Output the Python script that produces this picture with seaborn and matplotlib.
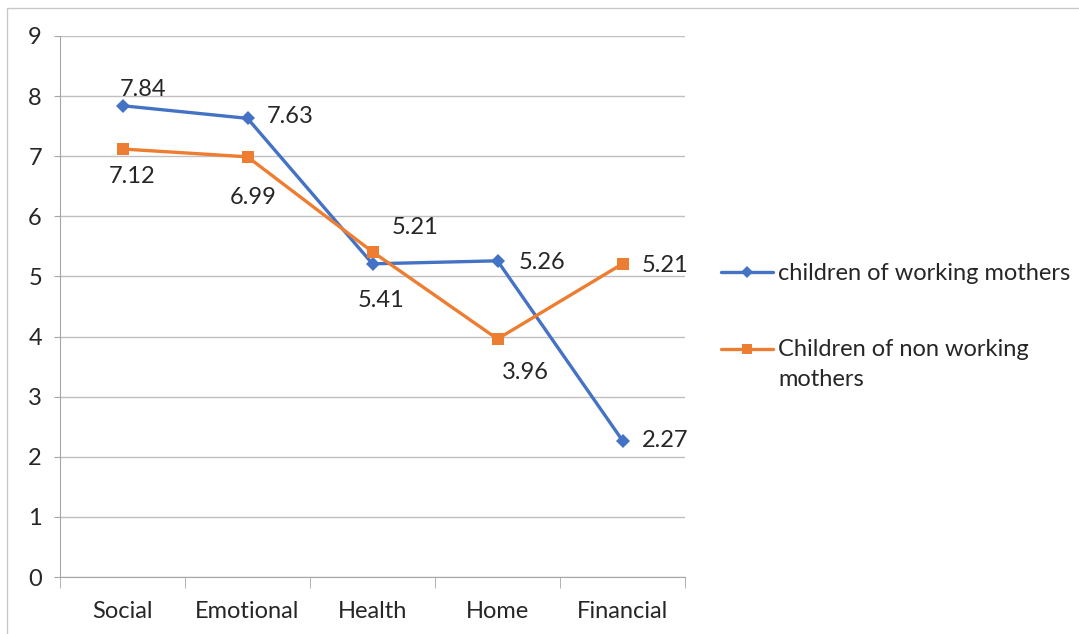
import pandas as pd
import matplotlib.pyplot as plt
import seaborn as sns
from matplotlib.patches import Rectangle
from matplotlib.lines import Line2D
from matplotlib.legend_handler import HandlerLine2D

# Chart data
categories = ['Social', 'Emotional', 'Health', 'Home', 'Financial']
working = [7.84, 7.63, 5.21, 5.26, 2.27]
non_working = [7.12, 6.99, 5.41, 3.96, 5.21]
working_name = 'children of working mothers'
non_working_name = 'Children of non working\nmothers'

# label text as shown in the original (Health labels appear swapped there)
working_labels = ['7.84', '7.63', '5.21', '5.26', '2.27']
non_working_labels = ['7.12', '6.99', '5.41', '3.96', '5.21']

df = pd.DataFrame({
    'category': categories * 2,
    'value': working + non_working,
    'group': [working_name] * 5 + [non_working_name] * 5,
})

sns.set_style('white')
plt.rcParams['font.family'] = ['Lato', 'DejaVu Sans']

blue = '#4472C4'
orange = '#ED7D31'
fs = 17

fig = plt.figure(figsize=(10.79, 6.34), dpi=100)
ax = fig.add_axes([60 / 1079, 57 / 634, 625 / 1079, 541 / 634])

sns.lineplot(data=df, x='category', y='value', hue='group', style='group',
             markers={working_name: 'D', non_working_name: 's'},
             dashes=False, palette={working_name: blue, non_working_name: orange},
             markersize=8, markeredgewidth=0, linewidth=2.4, sort=False,
             legend=False, ax=ax)
for ln in ax.lines:
    if ln.get_marker() == 'D':
        ln.set_markersize(7)

ax.set_xlim(-0.5, 4.5)
ax.set_ylim(0, 9)
ax.set_yticks(range(10))
ax.set_xlabel('')
ax.set_ylabel('')
ax.grid(axis='y', color='#bfbfbf', linewidth=1)
ax.set_axisbelow(True)
for s in ['top', 'right']:
    ax.spines[s].set_visible(False)
ax.spines['left'].set_color('#a6a6a6')
ax.spines['bottom'].set_color('#a6a6a6')

ax.set_xticks(range(5))
ax.set_xticks([i - 0.5 for i in range(6)], minor=True)
ax.tick_params(axis='x', which='major', length=0, pad=17, labelsize=fs, labelcolor='#262626')
ax.tick_params(axis='x', which='minor', length=8, color='#a6a6a6', direction='out')
ax.tick_params(axis='y', length=4, color='#a6a6a6', pad=9, labelsize=fs, labelcolor='#262626')
ax.tick_params(bottom=True, left=True, which='both')

# data labels, offsets in points
w_off = [(15, 12), (31, 1), (31, 26), (32, -1), (31, 0)]
n_off = [(7, -20), (4, -29), (6, -35), (20, -24), (31, -1)]
for i in range(5):
    ax.annotate(working_labels[i], (i, working[i]), xytext=w_off[i],
                textcoords='offset points', ha='center', va='center',
                fontsize=fs, color='#262626')
    ax.annotate(non_working_labels[i], (i, non_working[i]), xytext=n_off[i],
                textcoords='offset points', ha='center', va='center',
                fontsize=fs, color='#262626')


# keep the legend line beside the first line of a wrapped label
class FirstLineHandler(HandlerLine2D):
    def __init__(self, shift, **kw):
        super().__init__(**kw)
        self.shift = shift

    def create_artists(self, legend, orig_handle, xdescent, ydescent,
                       width, height, fontsize, trans):
        return super().create_artists(legend, orig_handle, xdescent,
                                      ydescent - 2 * self.shift, width, height,
                                      fontsize, trans)


handles = [Line2D([], [], color=blue, marker='D', markersize=6, markeredgewidth=0, linewidth=2.4),
           Line2D([], [], color=orange, marker='s', markersize=7, markeredgewidth=0, linewidth=2.4)]
leg = fig.legend(handles, [working_name, non_working_name], loc='upper left',
                 bbox_to_anchor=(700 / 1079, 1 - 242 / 634), frameon=False,
                 fontsize=fs, handlelength=2.2, handletextpad=0.2,
                 labelspacing=2.3, labelcolor='#262626',
                 handler_map={handles[1]: FirstLineHandler(11)})
for t in leg.get_texts():
    t.set_linespacing(1.55)

# light frame round the chart
fig.patches.append(Rectangle((7 / 1079, -0.01), 1.0, 1 - 8 / 634 + 0.01,
                             transform=fig.transFigure, fill=False,
                             edgecolor='#c8c8c8', linewidth=1))

fig.savefig('out.png', dpi=100)
